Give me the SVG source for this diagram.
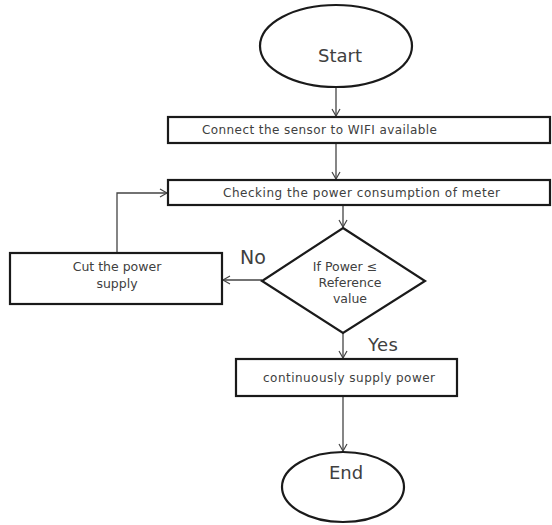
<svg xmlns="http://www.w3.org/2000/svg" width="552" height="525" viewBox="0 0 552 525">
<defs>
<marker id="arr" markerWidth="10" markerHeight="10" refX="8" refY="5" orient="auto" markerUnits="userSpaceOnUse">
<path d="M1,1 L8,5 L1,9" fill="none" stroke="#444" stroke-width="1.2"/>
</marker>
<style>
.shape{fill:#fff;stroke:#1a1a1a;stroke-width:2.2}
.conn{fill:none;stroke:#444;stroke-width:1.3;marker-end:url(#arr)}
.t{font-family:"DejaVu Sans","Liberation Sans",sans-serif;fill:#404040}
.s{font-size:12px}
.m{font-size:12.5px}
.b{font-size:18px}
</style>
</defs>
<rect width="552" height="525" fill="#fff"/>
<g id="connectors">
<line class="conn" x1="336" y1="87" x2="336" y2="116"/>
<line class="conn" x1="336" y1="143" x2="336" y2="179"/>
<line class="conn" x1="343" y1="206" x2="343" y2="227"/>
<line class="conn" x1="262" y1="280" x2="223" y2="280"/>
<polyline class="conn" points="117,253 117,193 167,193"/>
<line class="conn" x1="343" y1="333" x2="343" y2="358"/>
<line class="conn" x1="343" y1="396" x2="343" y2="451"/>
<text class="t" x="240" y="264" font-size="19">No</text>
<text class="t b" x="368" y="351" textLength="30">Yes</text>
</g>
<g id="start">
<ellipse class="shape" cx="336" cy="46" rx="76" ry="41"/>
<text class="t b" x="340" y="62" text-anchor="middle">Start</text>
</g>
<g id="connect">
<rect class="shape" x="168" y="117" width="382" height="26"/>
<text class="t s" x="202" y="134" textLength="235">Connect the sensor to WIFI available</text>
</g>
<g id="checking">
<rect class="shape" x="168" y="180" width="382" height="25"/>
<text class="t s" x="223" y="197" textLength="277">Checking the power consumption of meter</text>
</g>
<g id="decision">
<polygon class="shape" points="343,228 425,281 343,333 262,281"/>
<text class="t m" x="345" y="271" text-anchor="middle">If Power ≤</text>
<text class="t m" x="350" y="287" text-anchor="middle">Reference</text>
<text class="t m" x="350" y="303" text-anchor="middle">value</text>
</g>
<g id="cut">
<rect class="shape" x="10" y="253" width="212" height="51"/>
<text class="t m" x="117" y="271" text-anchor="middle">Cut the power</text>
<text class="t m" x="117" y="288" text-anchor="middle">supply</text>
</g>
<g id="supply">
<rect class="shape" x="236" y="359" width="221" height="37"/>
<text class="t s" x="263" y="382" textLength="172">continuously supply power</text>
</g>
<g id="end">
<ellipse class="shape" cx="343" cy="487" rx="61" ry="35"/>
<text class="t b" x="346" y="479" text-anchor="middle">End</text>
</g>
</svg>
